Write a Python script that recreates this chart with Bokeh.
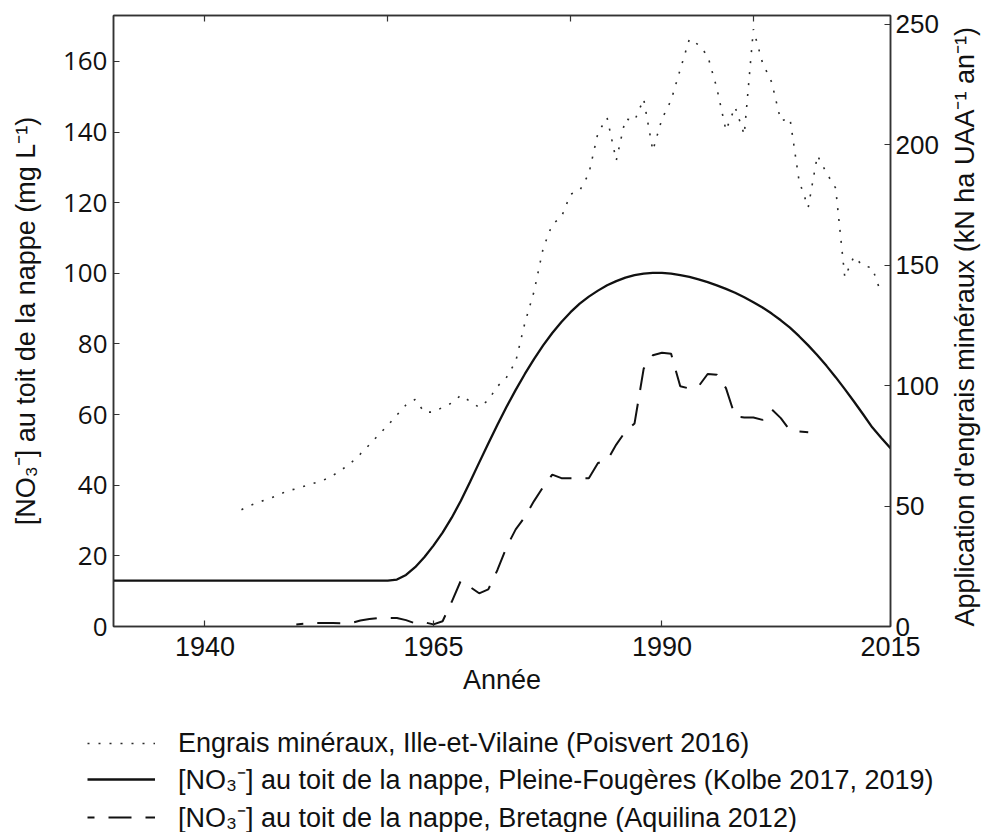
import math
from bokeh.plotting import figure
from bokeh.models import Range1d, LinearAxis, FixedTicker, Legend, LegendItem
from bokeh.embed import file_html
from bokeh.resources import INLINE

# ---- data ----
engrais_years = [1944, 1945, 1946, 1947, 1948, 1949, 1950, 1951, 1952, 1953,
                 1954, 1955, 1956, 1957, 1958, 1959, 1960, 1961, 1962, 1963,
                 1964, 1965, 1966, 1967, 1968, 1969, 1970, 1971, 1972, 1973,
                 1974, 1975, 1976, 1977, 1978, 1979, 1980, 1981, 1982, 1983,
                 1984, 1985, 1986, 1987, 1988, 1989, 1990, 1991, 1992, 1993,
                 1994, 1995, 1996, 1997, 1998, 1999, 2000, 2001, 2002, 2003,
                 2004, 2005, 2006, 2007, 2008, 2009, 2010, 2011, 2012, 2013,
                 2014]
engrais_values = [48.5, 50.3, 51.8, 53, 54.5, 56.3, 57.2, 58.4, 59.6, 60.8,
                  62.7, 65.2, 68, 71.6, 75.5, 79.6, 83.5, 87.8, 92, 94.3,
                  89, 89, 91, 92.8, 96, 93.5, 91, 94, 99.7, 103.5,
                  110, 126, 139, 157, 167, 170, 179.5, 181, 188, 205,
                  211.2, 193.5, 210.8, 210, 219, 197.6, 210.8, 218.5, 231.3, 243.9,
                  241.5, 237, 223.6, 206, 215.7, 204.2, 248, 234, 226, 210,
                  211, 185, 174, 195.6, 188.3, 182, 145, 153.6, 149.7, 149,
                  138]

kolbe_years = [1930, 1960, 1961, 1962, 1963, 1964, 1965, 1966, 1967, 1968, 1969,
               1970, 1971, 1972, 1973, 1974, 1975, 1976, 1977, 1978, 1979,
               1980, 1981, 1982, 1983, 1984, 1985, 1986, 1987, 1988, 1989,
               1990, 1991, 1992, 1993, 1994, 1995, 1996, 1997, 1998, 1999,
               2000, 2001, 2002, 2003, 2004, 2005, 2006, 2007, 2008, 2009,
               2010, 2011, 2012, 2013, 2014, 2015]
kolbe_values = [13, 13, 13.3, 14.6, 16.8, 19.6, 22.9, 26.6, 30.8, 35.6, 40.9,
                46.4, 51.8, 57.1, 62.2, 67, 71.5, 75.7, 79.6, 83.1, 86.2,
                89, 91.4, 93.4, 95.1, 96.6, 97.8, 98.8, 99.5, 99.9, 100.1,
                100.1, 99.9, 99.5, 99, 98.3, 97.5, 96.6, 95.6, 94.5, 93.2,
                91.8, 90.3, 88.6, 86.7, 84.6, 82.2, 79.6, 76.8, 73.8, 70.6,
                67.2, 63.7, 60.1, 56.4, 53.4, 50.5]

aquilina_years = [1950, 1951, 1952, 1953, 1954, 1955, 1956, 1957, 1958, 1959,
                  1960, 1961, 1962, 1963, 1964, 1965, 1966, 1967, 1968, 1969,
                  1970, 1971, 1972, 1973, 1974, 1975, 1976, 1977, 1978, 1979,
                  1980, 1981, 1982, 1983, 1984, 1985, 1986, 1987, 1988, 1989,
                  1990, 1991, 1992, 1993, 1994, 1995, 1996, 1997, 1998, 1999,
                  2000, 2001, 2002, 2003, 2004, 2005, 2006]
aquilina_values = [0.6, 0.8, 1, 1, 1, 0.9, 1, 1.7, 2.1, 2.4,
                   2.4, 2.4, 1.8, 0.9, 1.2, 0.6, 1.5, 7, 13, 11.2,
                   9.4, 10.5, 16, 22.5, 27.5, 31, 35.5, 39.5, 43, 42,
                   42, 42, 42, 46.3, 47, 51.5, 55.2, 57.5, 73, 76.8,
                   77.5, 77.2, 68, 67.4, 68, 71.5, 71.3, 67.5, 59.5, 59.2,
                   59.2, 58.5, 61.5, 59, 55.5, 55.2, 55]

x_ticks = [1940, 1965, 1990, 2015]
top_ticks = [1940, 1960, 1980, 2000]
left_ticks = [0, 20, 40, 60, 80, 100, 120, 140, 160]
right_ticks = [0, 50, 100, 150, 200, 250]

label_engrais = "Engrais minéraux, Ille-et-Vilaine (Poisvert 2016)"
label_kolbe = "[NO\u2083\u207b] au toit de la nappe, Pleine-Fougères (Kolbe 2017, 2019)"
label_aquilina = "[NO\u2083\u207b] au toit de la nappe, Bretagne (Aquilina 2012)"

# ---- main figure ----
AX = "#333333"
TXT = "#111111"
p = figure(width=997, height=720, output_backend="svg", toolbar_location=None,
           x_range=Range1d(1930, 2015), y_range=Range1d(0, 173),
           min_border_left=113, min_border_right=105, min_border_top=15,
           min_border_bottom=94)
p.extra_y_ranges = {"right": Range1d(0, 253.7)}
p.grid.visible = False
p.outline_line_color = AX
p.outline_line_width = 1.5
p.background_fill_color = "white"
p.border_fill_color = "white"

def style_axis(ax, font, size, standoff):
    ax.axis_line_color = AX
    ax.axis_line_width = 1.5
    ax.major_tick_line_color = AX
    ax.major_tick_line_width = 1.2
    ax.major_tick_in = 6
    ax.major_tick_out = 0
    ax.minor_tick_line_color = None
    ax.major_label_text_font = font
    ax.major_label_text_font_size = size
    ax.major_label_text_color = TXT
    ax.major_label_standoff = standoff
    ax.axis_label_text_font = "Liberation Sans"
    ax.axis_label_text_font_size = "27px"
    ax.axis_label_text_font_style = "normal"
    ax.axis_label_text_color = TXT

xa = p.xaxis[0]
xa.ticker = FixedTicker(ticks=x_ticks)
xa.axis_label = "Année"
style_axis(xa, "Liberation Sans", "27px", 10)
xa.axis_label_standoff = 6

ya = p.yaxis[0]
ya.ticker = FixedTicker(ticks=left_ticks)
ya.axis_label = "[NO\u2083\u207b] au toit de la nappe (mg L\u207b\u00b9)"
style_axis(ya, "Open Sans", "26px", 6)
ya.axis_label_standoff = 19

ra = LinearAxis(y_range_name="right", ticker=FixedTicker(ticks=right_ticks),
                axis_label="Application d'engrais minéraux (kN ha UAA\u207b\u00b9 an\u207b\u00b9)")
style_axis(ra, "Liberation Sans", "26px", 5)
ra.axis_label_orientation = math.pi / 2
if "axis_label_align" in ra.properties():
    ra.axis_label_align = "start"
ra.axis_label_text_baseline = "top"
ra.axis_label_standoff = 23
p.add_layout(ra, "right")

ta = LinearAxis(ticker=FixedTicker(ticks=top_ticks),
                major_label_overrides={t: "" for t in top_ticks})
style_axis(ta, "Liberation Sans", "1px", 0)
p.add_layout(ta, "above")

# ---- series ----
styles = {
    "engrais": dict(line_color="#2a2a2a", line_width=1.6, line_dash="2 9"),
    "kolbe": dict(line_color="#111111", line_width=2.3),
    "aquilina": dict(line_color="#111111", line_width=2, line_dash="23 14",
                     line_dash_offset=16),
}
p.line(engrais_years, engrais_values, y_range_name="right", **styles["engrais"])
p.line(kolbe_years, kolbe_values, **styles["kolbe"])
p.line(aquilina_years, aquilina_values, **styles["aquilina"])

# ---- legend strip under the chart (same series, only their legend swatches show) ----
q = figure(width=997, height=112, output_backend="svg", toolbar_location=None,
           x_axis_location=None, y_axis_location=None,
           min_border_left=0, min_border_right=0, min_border_top=0, min_border_bottom=0,
           x_range=Range1d(0, 1), y_range=Range1d(0, 1))
q.grid.visible = False
q.outline_line_color = None
q.border_fill_color = "white"
q_eng = q.line(engrais_years, engrais_values, **styles["engrais"])
q_kol = q.line(kolbe_years, kolbe_values, **styles["kolbe"])
q_aqu = q.line(aquilina_years, aquilina_values, **styles["aquilina"])

legend = Legend(items=[LegendItem(label=label_engrais, renderers=[q_eng]),
                       LegendItem(label=label_kolbe, renderers=[q_kol]),
                       LegendItem(label=label_aquilina, renderers=[q_aqu])],
                location=(87, -3), orientation="vertical",
                glyph_width=68, glyph_height=32, label_height=32,
                spacing=1, padding=0, margin=0, label_standoff=23,
                border_line_color=None, background_fill_alpha=0,
                label_text_font="Liberation Sans", label_text_font_size="27px",
                label_text_color=TXT)
q.add_layout(legend)

open("out.html", "w").write(file_html([p, q], INLINE))
